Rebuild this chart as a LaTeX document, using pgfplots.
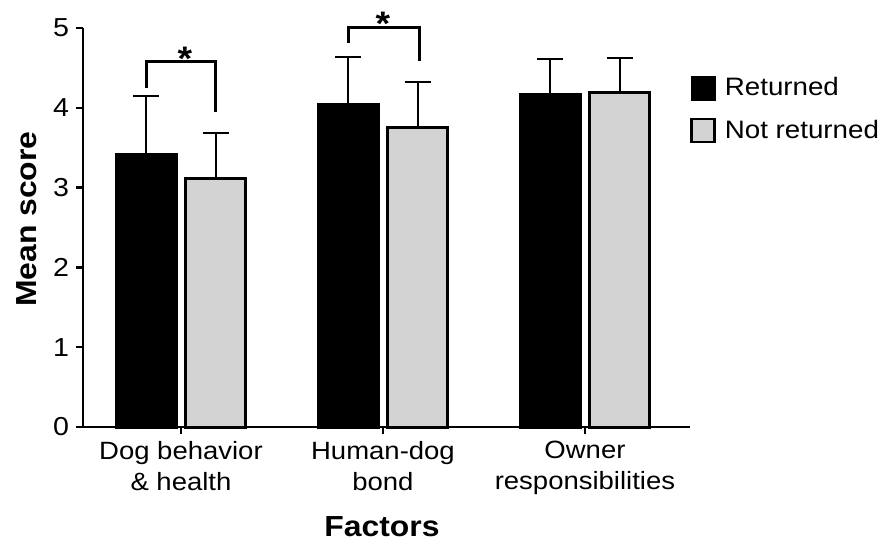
\documentclass[border=0pt]{standalone}
\usepackage{fontspec}
\setmainfont{Liberation Sans}[FakeStretch=1.1]
\usepackage{pgfplots}
\pgfplotsset{compat=1.18}
\definecolor{barsgray}{RGB}{211,211,211}
\begin{document}
\begin{tikzpicture}
\path[use as bounding box] (0,0) rectangle (440pt,271.5pt);
\begin{axis}[
  at={(41.5pt,58pt)}, anchor=south west,
  scale only axis, width=303.5pt, height=199.5pt,
  xmin=-0.485, xmax=2.52, ymin=0, ymax=5,
  axis lines=left, axis line style={-, line width=1.25pt},
  clip=false,
  xtick={0,1,2},
  xticklabels={{Dog behavior\\\& health},{Human-dog\\bond},{Owner\\responsibilities}},
  xticklabel style={align=center, font=\fontsize{12.5}{15.5}\selectfont},
  ytick={0,1,2,3,4,5},
  yticklabel style={font=\fontsize{13}{15}\selectfont},
  /pgf/number format/assume math mode=true,
  tick align=outside, major tick length=3.5pt,
  tick style={line width=1.25pt, black},
  xlabel={\bfseries Factors}, ylabel={\bfseries Mean score},
  label style={font=\fontsize{14.5}{17}\selectfont},
  xlabel style={at={(axis description cs:0.4926,-0.275)}, anchor=base},
  ylabel style={at={(axis description cs:-0.0758,0.521)}, anchor=base},
  legend style={at={(axis description cs:1.0,0.887)}, anchor=north west,
    draw=none, fill=none, inner sep=0pt, row sep=6.5pt,
    font=\fontsize{12.6}{15}\selectfont},
  legend cell align=left,
]
% bars
\addplot[ybar, bar width=0.295, bar shift=0pt, fill=black, draw=black, line width=1.5pt,
  legend image code/.code={\draw[fill=black, draw=black, line width=1pt] (0pt,-5.75pt) rectangle (11.5pt,5.75pt);}]
  coordinates {(-0.172,3.42) (0.828,4.04) (1.828,4.17)};
\addlegendentry{\hspace{2.5pt}Returned}
\addplot[ybar, bar width=0.295, bar shift=0pt, fill=barsgray, draw=black, line width=1.5pt,
  legend image code/.code={\draw[fill=barsgray, draw=black, line width=1.25pt] (0pt,-5.75pt) rectangle (11.5pt,5.75pt);}]
  coordinates {(0.172,3.12) (1.172,3.75) (2.172,4.19)};
\addlegendentry{\hspace{2.5pt}Not returned}
% error bars (upper only)
\addplot[draw=none, mark=none, forget plot,
  error bars/.cd, y dir=plus, y explicit, error mark=|,
  error bar style={line width=1pt, black},
  error mark options={line width=1pt, black, mark size=6.5pt}]
  coordinates {(-0.172,3.42) +- (0,0.73) (0.828,4.04) +- (0,0.60) (1.828,4.17) +- (0,0.44)
               (0.172,3.12) +- (0,0.57) (1.172,3.75) +- (0,0.57) (2.172,4.19) +- (0,0.44)};
% significance brackets
\addplot[sharp plot, black, line width=1.5pt, forget plot]
  coordinates {(-0.17,4.25) (-0.17,4.58) (0.173,4.58) (0.173,3.95)};
\addplot[sharp plot, black, line width=1.5pt, forget plot]
  coordinates {(0.83,4.81) (0.83,5.01) (1.18,5.01) (1.18,4.59)};
\node[anchor=base, font=\fontsize{17}{19}\selectfont\bfseries, inner sep=0pt] at (axis cs:0.02,4.47) {*};
\node[anchor=base, font=\fontsize{17}{19}\selectfont\bfseries, inner sep=0pt] at (axis cs:1.0,4.90) {*};
\end{axis}
\end{tikzpicture}
\end{document}
